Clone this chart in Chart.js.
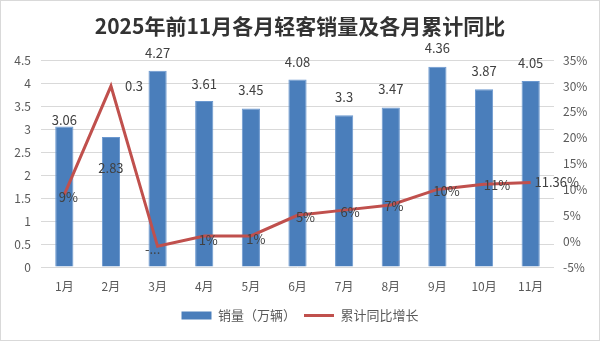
<!DOCTYPE html>
<html>
<head>
<meta charset="utf-8">
<script src="https://cdn.jsdelivr.net/npm/chart.js@4"></script>
<style>
  html, body { margin: 0; padding: 0; background: #fff; }
  #wrap { position: relative; width: 600px; height: 341px; box-sizing: border-box; border: 1px solid #d9d9d9; }
  canvas { display: block; }
</style>
</head>
<body>
<div id="wrap"><canvas id="c" width="598" height="339"></canvas></div>
<script>
// Monthly light-bus sales (10k units) and cumulative YoY growth (%)
const months = ['1月', '2月', '3月', '4月', '5月', '6月', '7月', '8月', '9月', '10月', '11月'];
const sales = [3.06, 2.83, 4.27, 3.61, 3.45, 4.08, 3.3, 3.47, 4.36, 3.87, 4.05];
const growth = [9, 30, -1, 1, 1, 5, 6, 7, 10, 11, 11.36];
const growthLabels = ['9%', '0.3', '-...', '1%', '1%', '5%', '6%', '7%', '10%', '11%', '11.36%'];
const leftTicks = { min: 0, max: 4.5, step: 0.5 };
const rightTicks = { min: -5, max: 35, step: 5 };

const FONT = '"Noto Sans CJK SC", "Noto Sans", sans-serif';
const BAR_COLOR = '#4A7EBB';
const LINE_COLOR = '#C0504D';

// Label placement tweaks (pixels) for the value labels
const barLabelDy = [-6, 31, -18, -17, -18, -17, -18, -18, -19, -18, -18];
const lineLabelDx = [4, 23, -5, 4, 5, 8, 6, 3, 9, 13, 26];
const lineLabelDy = [2, 0, 3, 4, 3, 2, 2, 1, 2, 1, 0];

const valueLabels = {
  id: 'valueLabels',
  afterDatasetsDraw(chart) {
    const ctx = chart.ctx;
    ctx.save();
    ctx.font = '13px ' + FONT;
    ctx.fillStyle = '#404040';
    ctx.textAlign = 'center';
    ctx.textBaseline = 'middle';
    const barMeta = chart.getDatasetMeta(0);
    barMeta.data.forEach((el, i) => {
      ctx.fillText(String(sales[i]), el.x, el.y + barLabelDy[i]);
    });
    const lineMeta = chart.getDatasetMeta(1);
    lineMeta.data.forEach((el, i) => {
      ctx.fillText(growthLabels[i], el.x + lineLabelDx[i], el.y + lineLabelDy[i]);
    });
    ctx.restore();
  }
};

new Chart(document.getElementById('c'), {
  type: 'bar',
  data: {
    labels: months,
    datasets: [
      {
        type: 'bar',
        label: '销量（万辆）',
        data: sales,
        yAxisID: 'y',
        backgroundColor: BAR_COLOR,
        borderColor: '#6B98CF',
        borderWidth: 1,
        barPercentage: 0.39,
        categoryPercentage: 1,
        order: 2
      },
      {
        type: 'line',
        label: '累计同比增长',
        data: growth,
        yAxisID: 'y2',
        borderColor: LINE_COLOR,
        backgroundColor: LINE_COLOR,
        borderWidth: 3,
        pointRadius: 0,
        tension: 0,
        order: 1
      }
    ]
  },
  options: {
    responsive: false,
    animation: false,
    layout: { padding: { left: 0, right: 0, top: 0, bottom: 8 } },
    plugins: {
      title: {
        display: true,
        text: '2025年前11月各月轻客销量及各月累计同比',
        color: '#333333',
        font: { family: FONT, size: 21, weight: 'bold' },
        padding: { top: 12, bottom: 22 }
      },
      legend: {
        position: 'bottom',
        labels: {
          color: '#595959',
          font: { family: FONT, size: 13 },
          usePointStyle: true,
          pointStyleWidth: 30,
          boxHeight: 8,
          padding: 8,
          sort: (a, b) => a.datasetIndex - b.datasetIndex,
          generateLabels(chart) {
            return chart.data.datasets.map((ds, i) => ({
              text: ds.label,
              datasetIndex: i,
              fillStyle: ds.backgroundColor,
              strokeStyle: ds.type === 'line' ? ds.borderColor : ds.backgroundColor,
              lineWidth: ds.type === 'line' ? 3 : 0,
              pointStyle: ds.type === 'line' ? 'line' : 'rect',
              fontColor: '#595959',
              hidden: false
            }));
          }
        }
      },
      tooltip: { enabled: false }
    },
    scales: {
      x: {
        grid: { display: false, drawTicks: false },
        border: { display: false },
        ticks: { color: '#595959', font: { family: FONT, size: 12 }, padding: 12 },
        afterFit(scale) { scale.height = 34; }
      },
      y: {
        position: 'left',
        min: leftTicks.min,
        max: leftTicks.max,
        ticks: {
          stepSize: leftTicks.step,
          color: '#595959',
          font: { family: FONT, size: 12 },
          padding: 10,
          callback: v => String(Number(v.toFixed(1)))
        },
        grid: { color: '#D9D9D9', drawTicks: false },
        border: { display: false },
        afterFit(scale) { scale.width = 40; }
      },
      y2: {
        position: 'right',
        min: rightTicks.min,
        max: rightTicks.max,
        ticks: {
          stepSize: rightTicks.step,
          color: '#595959',
          font: { family: FONT, size: 12 },
          padding: 9,
          callback: v => v + '%'
        },
        grid: { display: false, drawTicks: false },
        border: { display: false },
        afterFit(scale) { scale.width = 45; }
      }
    }
  },
  plugins: [valueLabels]
});
</script>
</body>
</html>
